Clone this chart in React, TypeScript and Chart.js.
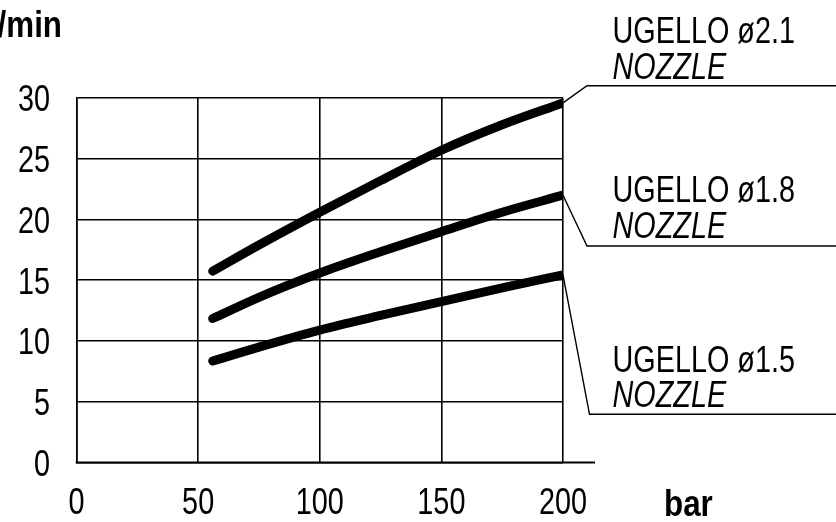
import React, { useEffect, useRef } from "react";
import { Chart, registerables } from "chart.js";

Chart.register(...registerables);

// ---- data ----
const pressures = [56, 75, 100, 125, 150, 175, 200];
const nozzle21 = [15.75, 17.9, 20.6, 23.2, 25.7, 27.8, 29.6];
const nozzle18 = [11.85, 13.6, 15.6, 17.35, 19.0, 20.6, 22.0];
const nozzle15 = [8.35, 9.5, 10.9, 12.1, 13.25, 14.37, 15.45];
const seriesLabels = ["UGELLO ø2.1", "UGELLO ø1.8", "UGELLO ø1.5"];
const subLabel = "NOZZLE";
const xTicks = [0, 50, 100, 150, 200];
const yTicks = [0, 5, 10, 15, 20, 25, 30];
const yUnit = "l/min";
const xUnit = "bar";

const FONT = "'Liberation Sans Narrow', 'Arial Narrow', 'Liberation Sans', Arial, sans-serif";
const SX = 0.8; // horizontal condensing to mimic a narrow face
const SXB = 0.87;
const FS = 36;

// annotation layout (pixel offsets)
const labelLayout = [
  { elbowDx: 24, lineY: 85.7, titleY: 43.3, subY: 79 },
  { elbowDx: 24, lineY: 246, titleY: 202.3, subY: 238.3 },
  { elbowDx: 26.5, lineY: 414.3, titleY: 371.7, subY: 407.3 },
];

function narrowText(ctx: CanvasRenderingContext2D, text: string, x: number, y: number, font: string, align: CanvasTextAlign, sx = SX) {
  ctx.save();
  ctx.font = font;
  ctx.textAlign = align;
  ctx.textBaseline = "alphabetic";
  ctx.fillStyle = "#000";
  ctx.translate(x, y);
  ctx.scale(sx, 1);
  ctx.fillText(text, 0, 0);
  ctx.restore();
}

const annotations = {
  id: "annotations",
  afterDraw(chart: any) {
    const ctx = chart.ctx as CanvasRenderingContext2D;
    const area = chart.chartArea;
    const xs = chart.scales.x;
    const ys = chart.scales.y;
    ctx.save();
    // extended bottom axis
    ctx.strokeStyle = "#000";
    ctx.lineWidth = 2;
    ctx.beginPath();
    ctx.moveTo(area.left - 0.8, ys.getPixelForValue(0));
    ctx.lineTo(area.right + 32, ys.getPixelForValue(0));
    ctx.stroke();
    ctx.restore();
    // tick labels via scales
    const tickFont = `${FS}px ${FONT}`;
    xs.ticks.forEach((t: any) => {
      const px = xs.getPixelForValue(t.value);
      narrowText(ctx, String(t.value), px, area.bottom + 51, tickFont, "center");
    });
    ys.ticks.forEach((t: any) => {
      const py = ys.getPixelForValue(t.value);
      narrowText(ctx, String(t.value), area.left - 26.5, py + 13.3, tickFont, "right");
    });
    // leader lines and labels
    chart.data.datasets.forEach((ds: any, i: number) => {
      const meta = chart.getDatasetMeta(i);
      const last = meta.data[meta.data.length - 1];
      const L = labelLayout[i];
      const ex = last.x + L.elbowDx;
      ctx.save();
      ctx.strokeStyle = "#000";
      ctx.lineWidth = 1.4;
      ctx.beginPath();
      ctx.moveTo(last.x, last.y);
      ctx.lineTo(ex, L.lineY);
      ctx.lineTo(chart.width, L.lineY);
      ctx.stroke();
      ctx.restore();
      narrowText(ctx, seriesLabels[i], 612.5, L.titleY, `${FS}px ${FONT}`, "left");
      narrowText(ctx, subLabel, 612.5, L.subY, `italic ${FS}px ${FONT}`, "left");
    });
    // axis units
    narrowText(ctx, yUnit, 62, 36.7, `bold ${FS}px ${FONT}`, "right", SXB);
    narrowText(ctx, xUnit, 664, 516, `bold ${FS}px ${FONT}`, "left", SXB);
  },
};

export default function App() {
  const ref = useRef<HTMLCanvasElement>(null);
  useEffect(() => {
    const mk = (vals: number[]) => pressures.map((p, i) => ({ x: p, y: vals[i] }));
    const ds = (vals: number[]) => ({
      data: mk(vals),
      borderColor: "#000",
      backgroundColor: "#000",
      borderWidth: 9,
      borderCapStyle: "round" as const,
      borderJoinStyle: "round" as const,
      pointRadius: 0,
      tension: 0.4,
      cubicInterpolationMode: "monotone" as const,
    });
    const chart = new Chart(ref.current!, {
      type: "line",
      data: { datasets: [ds(nozzle21), ds(nozzle18), ds(nozzle15)] },
      options: {
        animation: false,
        responsive: false,
        layout: { padding: { left: 0, right: 273, top: 98, bottom: 0 } },
        plugins: { legend: { display: false }, tooltip: { enabled: false } },
        scales: {
          x: {
            type: "linear",
            min: 0,
            max: 200,
            afterBuildTicks: (s: any) => { s.ticks = xTicks.map((v) => ({ value: v })); },
            afterFit: (s: any) => { s.height = 59.5; },
            grid: { color: "#000", lineWidth: 1.6, drawTicks: false },
            border: { display: false },
            ticks: { display: false },
          },
          y: {
            type: "linear",
            min: 0,
            max: 30,
            afterBuildTicks: (s: any) => { s.ticks = yTicks.map((v) => ({ value: v })); },
            afterFit: (s: any) => { s.width = 76.5; },
            grid: { color: "#000", lineWidth: 1.6, drawTicks: false },
            border: { display: true, color: "#000", width: 1.6 },
            ticks: { display: false },
          },
        },
      },
      plugins: [annotations],
    });
    return () => chart.destroy();
  }, []);
  return (
    <div style={{ position: "fixed", left: 0, top: 0, width: 836, height: 522, background: "#fff" }}>
      <canvas ref={ref} width={836} height={522} style={{ width: 836, height: 522 }} />
    </div>
  );
}
